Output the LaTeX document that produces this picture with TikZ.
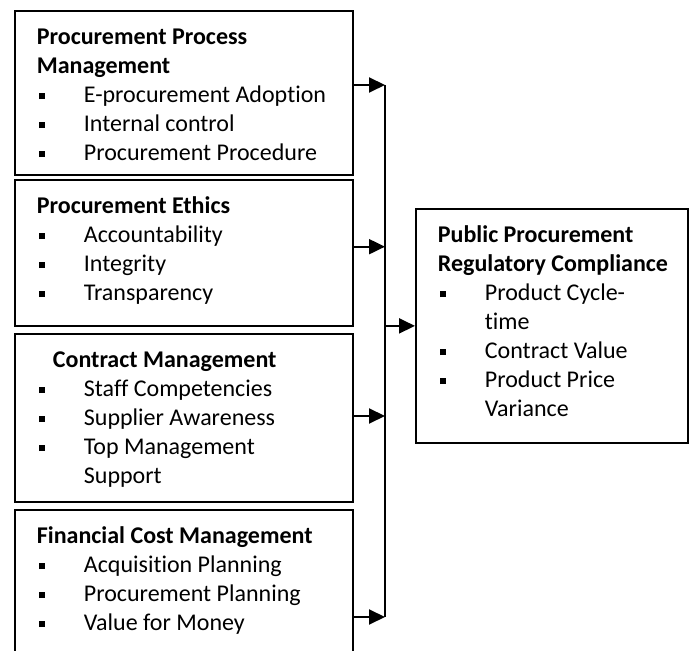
\documentclass[tikz,border=0pt]{standalone}
\usepackage{fontspec}
\setmainfont{Carlito}[Ligatures=NoCommon]
\usetikzlibrary{arrows.meta,positioning,calc}

\newcommand{\itm}{\makebox[23.5pt][l]{\hspace{1pt}\raisebox{1.6pt}{\rule{3pt}{3pt}}}}
\newcommand{\cnt}{\hspace*{23.5pt}}
\newcommand{\fbody}[3]{\parbox[t][#1][t]{#2}{\raggedright\hyphenpenalty=10000\rule{0pt}{16.75pt}#3}}

\begin{document}
\begin{tikzpicture}[x=0.5pt,y=-0.5pt,
  factor/.style={draw,line width=0.9pt,anchor=north west,inner xsep=11pt,inner ysep=0pt,
    font=\fontsize{12}{14.5}\selectfont},
  link/.style={line width=1pt,-{Triangle[length=8pt,width=7.5pt]}}]

\useasboundingbox (0,0) rectangle (696,651);

\node [factor] (pm) at (14,10) {\fbody{82pt}{147pt}{%
  \textbf{Procurement Process}\\ \textbf{Management}\\
  \itm E-procurement Adoption\\ \itm Internal control\\ \itm Procurement Procedure}};
\node [factor] (eth) at (14,179) {\fbody{73pt}{147pt}{%
  \textbf{Procurement Ethics}\\
  \itm Accountability\\ \itm Integrity\\ \itm Transparency}};
\node [factor] (cm) at (14,333) {\fbody{84pt}{147pt}{%
  \hspace*{8pt}\textbf{Contract Management}\\
  \itm Staff Competencies\\ \itm Supplier Awareness\\ \itm Top Management\\ \cnt Support}};
\node [factor] (fc) at (14,509) {\fbody{80pt}{147pt}{%
  \textbf{Financial Cost Management}\\
  \itm Acquisition Planning\\ \itm Procurement Planning\\ \itm Value for Money}};

\node [factor] (comp) at (415,208) {\fbody{117pt}{114pt}{%
  \mbox{\textbf{Public Procurement}}\\ \mbox{\textbf{Regulatory Compliance}}\\
  \itm Product Cycle-\\ \cnt time\\ \itm Contract Value\\ \itm Product Price\\ \cnt Variance}};

\coordinate (j1) at (385,85);
\coordinate (j2) at (385,246.7);
\coordinate (j3) at (385,416);
\coordinate (j4) at (385,617);

\foreach \b/\j in {pm/j1,eth/j2,cm/j3,fc/j4}
  \draw [link] (\b.east |- \j) -- (\j);
\draw [line width=1pt] (j1) -- (j4);
\draw [link] (j1 |- comp.west) -- (comp.west);

\end{tikzpicture}
\end{document}
